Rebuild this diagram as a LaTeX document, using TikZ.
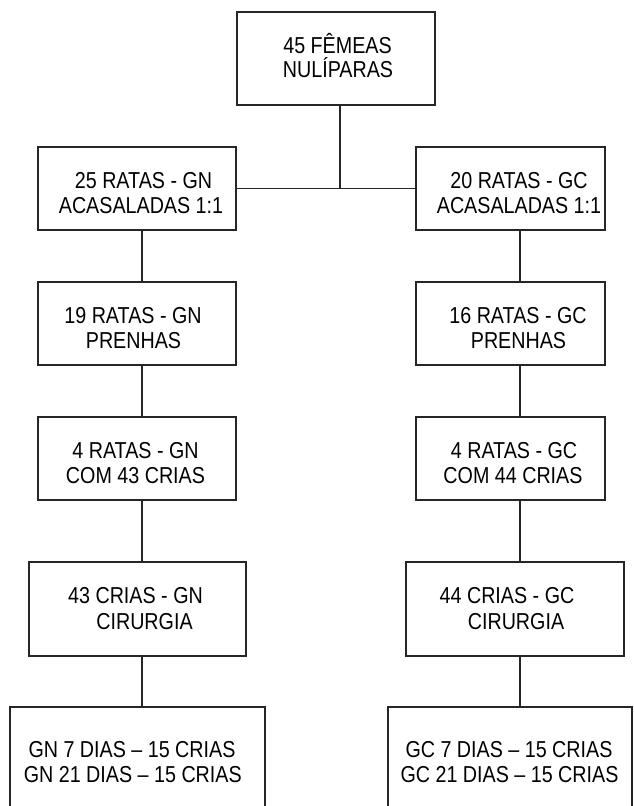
\documentclass[tikz,border=0pt]{standalone}
\usepackage{fontspec}
\setmainfont{Liberation Sans}
\newcommand{\tallt}[1]{\scalebox{1}[1.17]{#1}}
\begin{document}
\begin{tikzpicture}[x=1pt,y=-1pt,
  box/.style={draw=black!85, line width=1.2pt, rectangle, inner sep=0pt, fill=white},
  txt/.style={anchor=base, inner sep=0pt, font=\fontsize{19.7}{24}\selectfont},
  conn/.style={draw=black!85, line width=1.1pt}]
\clip (0,0) rectangle (633,806);
\fill[white] (0,0) rectangle (633,806);
% boxes
\node[box, minimum width=198pt, minimum height=93pt] (T) at (336,58.5) {};
\node[box, minimum width=198pt, minimum height=83pt] (L1) at (137,188.5) {};
\node[box, minimum width=189pt, minimum height=83pt] (R1) at (510.5,188.5) {};
\node[box, minimum width=198pt, minimum height=83pt] (L2) at (137,323.5) {};
\node[box, minimum width=189pt, minimum height=83pt] (R2) at (510.5,323.5) {};
\node[box, minimum width=198pt, minimum height=83pt] (L3) at (137,458.5) {};
\node[box, minimum width=189pt, minimum height=83pt] (R3) at (510.5,458.5) {};
\node[box, minimum width=217pt, minimum height=94pt] (L4) at (137.5,609) {};
\node[box, minimum width=218pt, minimum height=94pt] (R4) at (515,609) {};
\node[box, minimum width=255pt, minimum height=133pt] (L5) at (137.5,773.5) {};
\node[box, minimum width=244pt, minimum height=133pt] (R5) at (510,773.5) {};
% column coordinates
\coordinate (cT) at (340,0);
\coordinate (cL) at (142,0);
\coordinate (cR) at (520,0);
% connectors
\draw[conn] (T.south -| cT) -- (cT |- L1.east);
\draw[conn] (L1.east) -- (R1.west);
\draw[conn] (L1.south -| cL) -- (L2.north -| cL);
\draw[conn] (L2.south -| cL) -- (L3.north -| cL);
\draw[conn] (L3.south -| cL) -- (L4.north -| cL);
\draw[conn] (L4.south -| cL) -- (L5.north -| cL);
\draw[conn] (R1.south -| cR) -- (R2.north -| cR);
\draw[conn] (R2.south -| cR) -- (R3.north -| cR);
\draw[conn] (R3.south -| cR) -- (R4.north -| cR);
\draw[conn] (R4.south -| cR) -- (R5.north -| cR);
% texts
\node[txt] (t0a) at (337.5,53) {\tallt{45 FÊMEAS}};
\node[txt] (t0b) at (338,77) {\tallt{NULÍPARAS}};
\node[txt] (l1a) at (143.5,188) {\tallt{25 RATAS - GN}};
\node[txt] (l1b) at (141,213) {\tallt{ACASALADAS 1:1}};
\node[txt] (r1a) at (519,188) {\tallt{20 RATAS - GC}};
\node[txt] (r1b) at (519,213) {\tallt{ACASALADAS 1:1}};
\node[txt] (l2a) at (133,323) {\tallt{19 RATAS - GN}};
\node[txt] (l2b) at (133.5,348) {\tallt{PRENHAS}};
\node[txt] (r2a) at (518,323) {\tallt{16 RATAS - GC}};
\node[txt] (r2b) at (518.5,348) {\tallt{PRENHAS}};
\node[txt] (l3a) at (135.5,458) {\tallt{4 RATAS - GN}};
\node[txt] (l3b) at (135.5,483) {\tallt{COM 43 CRIAS}};
\node[txt] (r3a) at (514,458) {\tallt{4 RATAS - GC}};
\node[txt] (r3b) at (513,483) {\tallt{COM 44 CRIAS}};
\node[txt] (l4a) at (135.5,603) {\tallt{43 CRIAS - GN}};
\node[txt] (l4b) at (144.5,629) {\tallt{CIRURGIA}};
\node[txt] (r4a) at (507,603) {\tallt{44 CRIAS - GC}};
\node[txt] (r4b) at (516,629) {\tallt{CIRURGIA}};
\node[txt] (l5a) at (132,757) {\tallt{GN 7 DIAS – 15 CRIAS}};
\node[txt] (l5b) at (132.8,782) {\tallt{GN 21 DIAS – 15 CRIAS}};
\node[txt] (r5a) at (509,757) {\tallt{GC 7 DIAS – 15 CRIAS}};
\node[txt] (r5b) at (509.5,782) {\tallt{GC 21 DIAS – 15 CRIAS}};
\end{tikzpicture}
\end{document}
